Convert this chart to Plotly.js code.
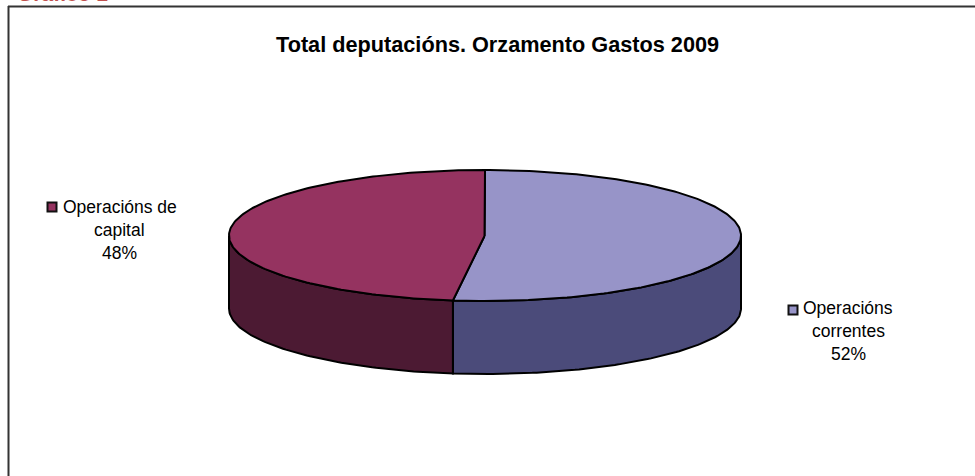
<!DOCTYPE html>
<html>
<head>
<meta charset="utf-8">
<script src="https://cdn.plot.ly/plotly-3.0.1.min.js"></script>
<style>html,body{margin:0;padding:0;background:#fff;overflow:hidden}</style>
</head>
<body>
<div id="chart" style="width:975px;height:476px"></div>
<script>
const chartTitle = "Total deputacións. Orzamento Gastos 2009";
const cutOffHeading = "Gráfico 1";
const categories = ["Operacións correntes", "Operacións de capital"];
const shares = [52, 48];
const labelLines = [["Operacións", "correntes", "52%"], ["Operacións de", "capital", "48%"]];
const topColors = ["#9794c8", "#953360"];
const wallColors = ["#4b4b7a", "#4c1a33"];

const W = 975, H = 476;
const cx = 485, cy = 235.5, rx = 256, ry = 65.5, depth = 73;
const hub = [484.5, 236];

function rim(deg, dy) {
  const t = deg * Math.PI / 180;
  return [cx + rx * Math.sin(t), cy - ry * Math.cos(t) + (dy || 0)];
}
function arc(a, b, dy) {
  const pts = [];
  const n = Math.max(2, Math.ceil(Math.abs(b - a)));
  for (let i = 0; i <= n; i++) pts.push(rim(a + (b - a) * i / n, dy));
  return pts;
}
function poly(pts, fill, name) {
  return {
    type: "scatter", mode: "lines", x: pts.map(p => p[0]), y: pts.map(p => p[1]),
    fill: "toself", fillcolor: fill, line: {color: "#000", width: 2, shape: "linear"},
    hoverinfo: "skip", showlegend: false, name: name
  };
}

const total = shares.reduce((a, b) => a + b, 0);
const split = shares[0] / total * 360;
const traces = [];

// Side walls, visible front half only
traces.push(poly(arc(90, split, 0).concat(arc(split, 90, depth)).concat([rim(90, 0)]), wallColors[0], categories[0]));
traces.push(poly(arc(split, 270, 0).concat(arc(270, split, depth)).concat([rim(split, 0)]), wallColors[1], categories[1]));
// Top faces
traces.push(poly([hub].concat(arc(0, split, 0)).concat([hub]), topColors[0], categories[0]));
traces.push(poly([hub].concat(arc(split, 360, 0)).concat([hub]), topColors[1], categories[1]));

// Legend key squares
const keyX = [793, 52], keyY = [310, 207];
traces.push({
  type: "scatter", mode: "markers", x: keyX, y: keyY,
  marker: {symbol: "square", size: 9, color: topColors, line: {color: "#111", width: 2}},
  hoverinfo: "skip", showlegend: false
});

const labelX = [848, 119.5], labelY = [[307.5, 330.5, 353.5], [206.5, 229.5, 252.5]];
const annotations = [];
labelLines.forEach((lines, i) => lines.forEach((t, j) => annotations.push({
  x: labelX[i], y: labelY[i][j], xref: "x", yref: "y", text: t, showarrow: false,
  xanchor: "center", yanchor: "middle",
  font: {family: "Liberation Sans, Arial, sans-serif", size: 17.5, color: "#000"}
})));
annotations.push({
  x: 497.5, y: 44.5, xref: "x", yref: "y", text: "<b>" + chartTitle + "</b>", showarrow: false,
  xanchor: "center", yanchor: "middle",
  font: {family: "Liberation Sans, Arial, sans-serif", size: 21.7, color: "#000"}
});
annotations.push({
  x: 15, y: 1 + 7 / H, xref: "x", yref: "paper", text: "<b>" + cutOffHeading + "</b>", showarrow: false,
  xanchor: "left", yanchor: "middle",
  font: {family: "Liberation Sans, Arial, sans-serif", size: 21, color: "#c0504d"}
});

const layout = {
  width: W, height: H, margin: {l: 0, r: 0, t: 0, b: 0},
  paper_bgcolor: "#fff", plot_bgcolor: "#fff", showlegend: false,
  xaxis: {range: [0, W], visible: false, fixedrange: true},
  yaxis: {range: [H, 0], visible: false, fixedrange: true},
  annotations: annotations,
  shapes: [
    {type: "line", xref: "x", yref: "y", x0: 8.5, x1: 8.5, y0: 6, y1: H, line: {color: "#333", width: 2}, layer: "below"},
    {type: "line", xref: "x", yref: "y", x0: 8, x1: W, y0: 6.5, y1: 6.5, line: {color: "#333", width: 2}, layer: "below"}
  ]
};
Plotly.newPlot("chart", traces, layout, {displayModeBar: false, staticPlot: true});
</script>
</body>
</html>
